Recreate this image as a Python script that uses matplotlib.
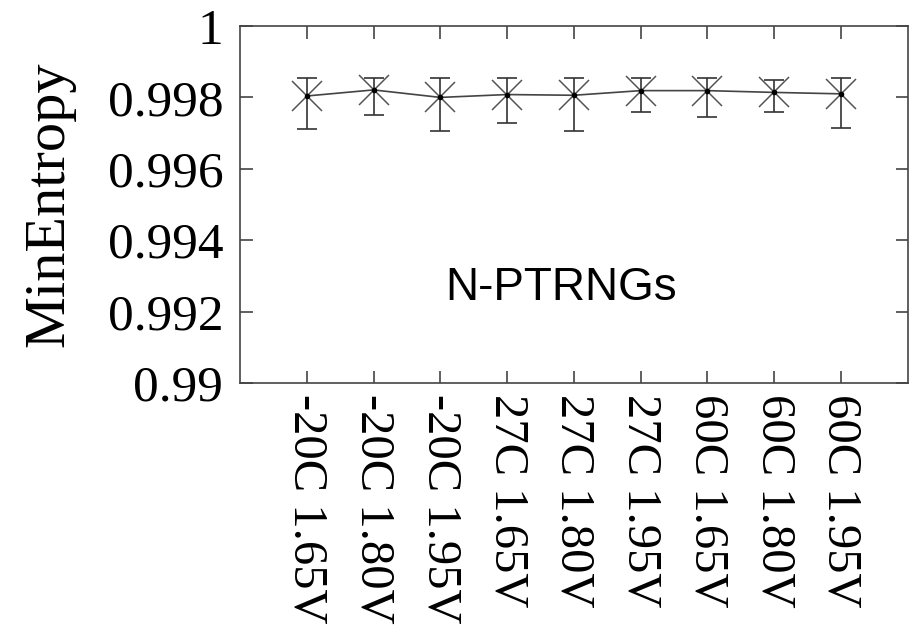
import numpy as np
import matplotlib
matplotlib.use('Agg')
import matplotlib.pyplot as plt

labels = ['-20C 1.65V', '-20C 1.80V', '-20C 1.95V',
          '27C 1.65V', '27C 1.80V', '27C 1.95V',
          '60C 1.65V', '60C 1.80V', '60C 1.95V']
mean = [0.99804, 0.99821, 0.99800, 0.99808, 0.99806, 0.99819, 0.99819, 0.99814, 0.99810]
upper = [0.99854, 0.99854, 0.99854, 0.99854, 0.99854, 0.99854, 0.99854, 0.99850, 0.99854]
lower = [0.99712, 0.99751, 0.99707, 0.99729, 0.99707, 0.99759, 0.99744, 0.99759, 0.99715]


def main():
    plt.rcParams['font.family'] = 'Liberation Serif'
    fig = plt.figure(figsize=(9.14, 6.35), dpi=100)
    ax = fig.add_axes([0.2626, 0.397, 0.7305, 0.562])

    x = np.arange(1, len(labels) + 1)
    m = np.array(mean)
    yerr = [m - np.array(lower), np.array(upper) - m]

    ax.errorbar(x, m, yerr=yerr, fmt='none', ecolor='#333333',
                elinewidth=1.2, capsize=7, capthick=1.2, zorder=2)
    ax.plot(x, m, color='#444444', lw=1.2, zorder=3)
    ax.plot(x, m, ls='none', marker='x', ms=21, mew=1.1,
            color='#555555', zorder=4)
    ax.plot(x, m, ls='none', marker='o', ms=3, color='black', zorder=5)

    ax.set_xlim(0, 10)
    ax.set_ylim(0.99, 1.0)
    ax.set_xticks(x)
    ax.set_xticklabels(labels, rotation=270, ha='center', va='top', fontsize=35)
    yt = [0.99, 0.992, 0.994, 0.996, 0.998, 1.0]
    ax.set_yticks(yt)
    ax.set_yticklabels(['0.99', '0.992', '0.994', '0.996', '0.998', '1'], fontsize=37)
    ax.tick_params(direction='in', length=9, width=1.2, color='#444444',
                   top=True, right=True, pad=12)
    ax.tick_params(axis='x', pad=8)
    for s in ax.spines.values():
        s.set_color('#444444')
        s.set_linewidth(1.2)

    ax.set_ylabel('MinEntropy', fontsize=42)
    ax.yaxis.set_label_coords(-0.247, 0.5)

    ax.text(4.81, 0.99266, 'N-PTRNGs', fontsize=33, family='Liberation Sans',
            ha='center', va='center')

    plt.savefig('out.png', dpi=100)


if __name__ == '__main__':
    main()
